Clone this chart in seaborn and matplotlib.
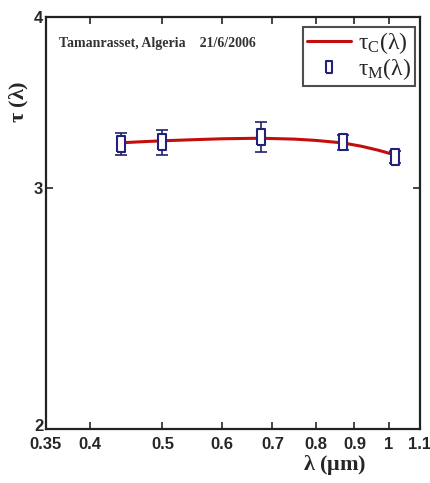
import numpy as np
import pandas as pd
import matplotlib
matplotlib.use("Agg")
import matplotlib.pyplot as plt
import matplotlib.transforms as mtransforms
import seaborn as sns

# measured optical depth (AERONET wavelengths) with error bars
lam_m = [0.44, 0.50, 0.675, 0.87, 1.02]
tau_m = [3.23, 3.24, 3.27, 3.24, 3.16]
err_m = [0.06, 0.07, 0.085, 0.04, 0.03]

# computed curve
lam_c = [0.44, 0.47, 0.50, 0.55, 0.60, 0.675, 0.75, 0.80, 0.87, 0.92, 0.97, 1.02]
tau_c = [3.237, 3.243, 3.248, 3.254, 3.259, 3.262, 3.257, 3.250, 3.236, 3.218, 3.196, 3.171]

xticks = [0.35, 0.4, 0.5, 0.6, 0.7, 0.8, 0.9, 1, 1.1]
xticklabels = ['0.35', '0.4', '0.5', '0.6', '0.7', '0.8', '0.9', '1', '1.1']
yticks = [2, 3, 4]

sns.set_style("ticks")
plt.rcParams['font.family'] = ['Liberation Sans Narrow', 'Liberation Sans', 'DejaVu Sans']
plt.rcParams['mathtext.fontset'] = 'custom'
plt.rcParams['mathtext.rm'] = 'Liberation Serif'
plt.rcParams['mathtext.it'] = 'Liberation Serif:italic'
plt.rcParams['mathtext.bf'] = 'Liberation Serif:bold'

fig = plt.figure(figsize=(4.31, 4.83), dpi=100)
ax = fig.add_axes([0.1067, 0.1118, 0.8678, 0.853])

df_c = pd.DataFrame({'lam': lam_c, 'tau': tau_c})
sns.lineplot(data=df_c, x='lam', y='tau', ax=ax, color='#c40d0d', lw=2.2,
             label=r'$\mathrm{\tau_{C}(\lambda)}$', zorder=2)

rect = [(-0.55, -1), (0.55, -1), (0.55, 1), (-0.55, 1), (-0.55, -1)]
ax.errorbar(lam_m, tau_m, yerr=err_m, fmt='none', ecolor='#22226e', elinewidth=1.2,
            capsize=4, capthick=1.2, zorder=3)
ax.plot(lam_m, tau_m, ls='none', marker=rect, ms=11, mfc='white', mec='#22227a',
        mew=1.5, zorder=4, label=r'$\mathrm{\tau_{M}(\lambda)}$')

ax.set_xscale('log')
ax.set_yscale('log')
ax.set_xlim(0.35, 1.1)
ax.set_ylim(2, 4)
ax.set_xticks(xticks)
ax.set_xticklabels(xticklabels)
ax.set_yticks(yticks)
ax.set_yticklabels([str(t) for t in yticks])
ax.minorticks_off()
ax.tick_params(direction='in', length=5, width=1.2, top=True, right=True,
               labelsize=12, pad=2)
ax.tick_params(axis='x', pad=6)
for lab in ax.get_xticklabels() + ax.get_yticklabels():
    lab.set_fontweight('bold')
# lift the bottom "2" a little so it sits above "0.35"
lab2 = ax.get_yticklabels()[0]
lab2.set_transform(lab2.get_transform() +
                   mtransforms.ScaledTranslation(0, 3 / 72, fig.dpi_scale_trans))
for sp in ax.spines.values():
    sp.set_linewidth(1.6)
    sp.set_color('#222222')
ax.set_xlabel('')
ax.set_ylabel('')

fig.text(0.777, 0.037, r'$\mathbf{\lambda\ (\mu m)}$', fontsize=16,
         ha='center', va='center')
fig.text(0.045, 0.79, r'$\mathbf{\tau\ (\lambda)}$', fontsize=16,
         rotation=90, ha='center', va='center')
ax.text(0.034, 0.935, 'Tamanrasset, Algeria    21/6/2006', transform=ax.transAxes,
        fontsize=10, family='Liberation Serif', fontweight='bold', color='#333333',
        va='center')

leg = ax.legend(loc='upper right', bbox_to_anchor=(0.987, 0.976), fontsize=17,
                frameon=True, fancybox=False, handlelength=1.9, handletextpad=0.3,
                borderpad=0.15, labelspacing=0.0, borderaxespad=0)
leg.get_frame().set_edgecolor('#222222')
leg.get_frame().set_linewidth(1.5)
for h in leg.legend_handles:
    if h.get_marker() not in (None, 'None', ''):
        h.set_markersize(8)

fig.savefig('out.png', dpi=100)
